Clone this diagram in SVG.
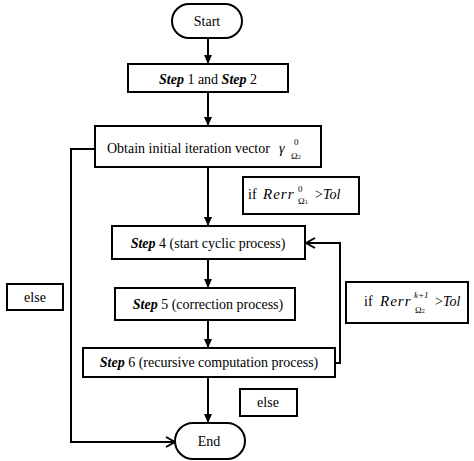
<svg xmlns="http://www.w3.org/2000/svg" width="474" height="461" viewBox="0 0 474 461">
<style>
.box{fill:#fff;stroke:#000;stroke-width:2}
.ln{fill:none;stroke:#000;stroke-width:2}
text{font-family:"Liberation Serif","DejaVu Serif","Noto Serif","Times New Roman",serif;font-size:14px;fill:#000}
.c{text-anchor:middle}
.bi{font-weight:bold;font-style:italic}
.i{font-style:italic}
.s{font-size:9px}
.m{font-style:italic;font-size:15px;letter-spacing:1px}
</style>
<defs>
<marker id="af" markerWidth="10" markerHeight="10" refX="9" refY="5" orient="auto" markerUnits="userSpaceOnUse">
<path d="M0,1 L9,5 L0,9 Z" fill="#000"/>
</marker>
<marker id="ao" markerWidth="12" markerHeight="12" refX="10" refY="6" orient="auto" markerUnits="userSpaceOnUse">
<path d="M1,1 L10,6 L1,11" fill="none" stroke="#000" stroke-width="2"/>
</marker>
</defs>
<rect width="474" height="461" fill="#fff"/>
<g id="connectors">
<line class="ln" x1="208" y1="38" x2="208" y2="64" marker-end="url(#af)"/>
<line class="ln" x1="208" y1="92" x2="208" y2="126" marker-end="url(#af)"/>
<line class="ln" x1="208" y1="167" x2="208" y2="226" marker-end="url(#af)"/>
<line class="ln" x1="208" y1="259" x2="208" y2="288" marker-end="url(#af)"/>
<line class="ln" x1="208" y1="320" x2="208" y2="348" marker-end="url(#af)"/>
<line class="ln" x1="208" y1="377" x2="208" y2="423" marker-end="url(#af)"/>
<polyline class="ln" points="335,363 340,363 340,243 306,243" marker-end="url(#ao)"/>
<polyline class="ln" points="95,149 71,149 71,442 175,442" marker-end="url(#ao)"/>
</g>
<g id="start">
<rect class="box" x="172" y="4" width="70" height="34" rx="17"/>
<text class="c" x="207" y="26">Start</text>
</g>
<g id="step12">
<rect class="box" x="128" y="64" width="160" height="28"/>
<text class="c" x="208" y="84"><tspan class="bi">Step</tspan> 1 and <tspan class="bi">Step</tspan> 2</text>
</g>
<g id="obtain">
<rect class="box" x="95" y="126" width="226" height="41"/>
<text x="107" y="153">Obtain initial iteration vector<tspan class="i" x="279">γ</tspan><tspan class="s" x="294" y="145">0</tspan><tspan class="s" x="291" y="159">Ω<tspan font-size="6">2</tspan></tspan></text>
</g>
<g id="cond1">
<rect class="box" x="243" y="177" width="116" height="37"/>
<text x="248" y="199">if<tspan class="m" x="263">Rerr</tspan><tspan class="s" x="298" y="192">0</tspan><tspan class="s" x="298" y="204">Ω<tspan font-size="6">1</tspan></tspan><tspan x="315" y="199">&gt;</tspan><tspan class="i">Tol</tspan></text>
</g>
<g id="step4">
<rect class="box" x="112" y="226" width="193" height="33"/>
<text class="c" x="208" y="248"><tspan class="bi">Step</tspan> 4 (start cyclic process)</text>
</g>
<g id="step5">
<rect class="box" x="115" y="288" width="180" height="32"/>
<text class="c" x="208" y="309"><tspan class="bi">Step</tspan> 5 (correction process)</text>
</g>
<g id="step6">
<rect class="box" x="83" y="348" width="252" height="29"/>
<text class="c" x="209" y="367"><tspan class="bi">Step</tspan> 6 (recursive computation process)</text>
</g>
<g id="cond2">
<rect class="box" x="346" y="282" width="122" height="41"/>
<text x="364" y="306">if<tspan class="m" x="380">Rerr</tspan><tspan class="s i" x="414" y="298">k+1</tspan><tspan class="s" x="415" y="313">Ω<tspan font-size="6">2</tspan></tspan><tspan x="435" y="306">&gt;</tspan><tspan class="i">Tol</tspan></text>
</g>
<g id="else1">
<rect class="box" x="7" y="284" width="56" height="26"/>
<text class="c" x="35" y="302">else</text>
</g>
<g id="else2">
<rect class="box" x="240" y="389" width="57" height="27"/>
<text class="c" x="268" y="407">else</text>
</g>
<g id="end">
<rect class="box" x="175" y="423" width="70" height="36" rx="18"/>
<text class="c" x="209" y="446">End</text>
</g>
</svg>
